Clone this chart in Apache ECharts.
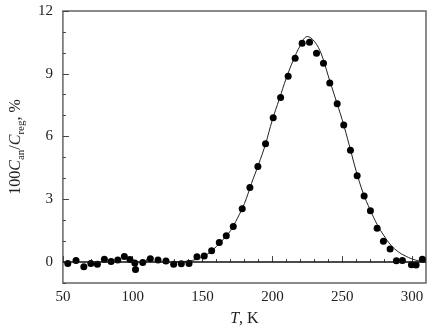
<!DOCTYPE html>
<html>
<head>
<meta charset="utf-8">
<script src="https://cdn.jsdelivr.net/npm/echarts@6/dist/echarts.min.js"></script>
<style>
  html, body { margin: 0; padding: 0; background: #fff; }
  #chart { width: 446px; height: 332px; }
</style>
</head>
<body>
<div id="chart"></div>
<script>
// measured points: temperature (K) and 100*C_an/C_reg (%)
const tempPoints = [53.5, 59.4, 65, 70, 74.7, 79.7, 84.5, 89.3, 94, 98, 101.5, 102, 107.2, 112.6,
  118.1, 123.8, 129.3, 134.8, 140.3, 146, 151.2, 156.5, 162, 167, 172, 178.4, 183.9, 189.6, 195.1,
  200.6, 205.9, 211.3, 216.3, 221.3, 226.6, 231.6, 236.6, 241.1, 246.4, 251.1, 255.9, 260.7, 265.7,
  270.2, 275, 279.5, 284.3, 288.8, 293.1, 299.6, 302.9, 307.4];
const ratioPoints = [-0.07, 0.08, -0.22, -0.07, -0.1, 0.14, 0.03, 0.1, 0.27, 0.12, -0.05, -0.35, -0.02, 0.16,
  0.1, 0.05, -0.1, -0.08, -0.07, 0.25, 0.29, 0.54, 0.94, 1.26, 1.7, 2.55, 3.57, 4.57, 5.66,
  6.9, 7.86, 8.88, 9.74, 10.46, 10.51, 9.98, 9.5, 8.56, 7.57, 6.55, 5.34, 4.13, 3.16,
  2.45, 1.62, 0.99, 0.63, 0.06, 0.08, -0.13, -0.14, 0.14];

// fitted curve
const fitTemp = [130, 140, 145, 150, 155, 160, 165, 170, 175, 180, 185, 190, 195, 200, 205, 210,
  215, 220, 225, 230, 235, 240, 245, 250, 255, 260, 265, 270, 275, 280, 285, 290, 295, 300, 305, 309];
const fitRatio = [0, 0.05, 0.12, 0.25, 0.45, 0.75, 1.1, 1.5, 2.1, 2.8, 3.75, 4.65, 5.62, 6.8, 7.8, 8.8,
  9.65, 10.35, 10.78, 10.55, 9.95, 8.9, 7.85, 6.8, 5.6, 4.35, 3.3, 2.5, 1.8, 1.25, 0.8, 0.5, 0.3, 0.15, 0.05, 0];

const xMajorTicks = [50, 100, 150, 200, 250, 300];
const xMinorTicks = [60, 70, 80, 90, 110, 120, 130, 140, 160, 170, 180, 190, 210, 220, 230, 240,
  260, 270, 280, 290];
const yMajorTicks = [0, 3, 6, 9, 12];
const yMinorTicks = [-1, 1, 2, 4, 5, 7, 8, 10, 11];

const serif = 'Liberation Serif';
const scatterData = tempPoints.map((t, i) => [t, ratioPoints[i]]);
const fitData = fitTemp.map((t, i) => [t, fitRatio[i]]);

const chart = echarts.init(document.getElementById('chart'));
chart.setOption({
  backgroundColor: '#fff',
  animation: false,
  grid: {
    left: 62, right: 20, top: 11, bottom: 49,
    show: true, borderColor: '#666', borderWidth: 1.5, backgroundColor: 'transparent'
  },
  xAxis: [
    {
      type: 'value', min: 50, max: 310,
      axisLine: {show: false},
      splitLine: {show: false},
      axisTick: {inside: true, length: 6, customValues: xMajorTicks, lineStyle: {color: '#444'}},
      axisLabel: {
        customValues: xMajorTicks, margin: 7,
        fontFamily: serif, fontSize: 15, color: '#222'
      },
      name: '{i|T}{n|, K}',
      nameLocation: 'middle',
      nameGap: 28,
      nameTextStyle: {
        rich: {
          i: {fontFamily: serif, fontSize: 16, fontStyle: 'italic', color: '#222'},
          n: {fontFamily: serif, fontSize: 16, color: '#222'}
        }
      }
    },
    {
      // minor ticks only
      type: 'value', min: 50, max: 310, position: 'bottom',
      axisLine: {show: false}, splitLine: {show: false}, axisLabel: {show: false},
      axisTick: {inside: true, length: 3, customValues: xMinorTicks, lineStyle: {color: '#444'}}
    }
  ],
  yAxis: [
    {
      type: 'value', min: -1, max: 12,
      axisLine: {show: false},
      splitLine: {show: false},
      axisTick: {inside: true, length: 6, customValues: yMajorTicks, lineStyle: {color: '#444'}},
      axisLabel: {
        customValues: yMajorTicks, margin: 10,
        fontFamily: serif, fontSize: 15, color: '#222'
      },
      name: '{n|100}{i|C}{s|an}{n|/}{i|C}{s|reg}{n|, %}',
      nameLocation: 'middle',
      nameGap: 35,
      nameTextStyle: {
        rich: {
          n: {fontFamily: serif, fontSize: 16, lineHeight: 22, color: '#222'},
          i: {fontFamily: serif, fontSize: 16, lineHeight: 22, fontStyle: 'italic', color: '#222'},
          s: {fontFamily: serif, fontSize: 11, lineHeight: 11, verticalAlign: 'bottom', color: '#222'}
        }
      }
    },
    {
      type: 'value', min: -1, max: 12, position: 'left',
      axisLine: {show: false}, splitLine: {show: false}, axisLabel: {show: false},
      axisTick: {inside: true, length: 3, customValues: yMinorTicks, lineStyle: {color: '#444'}}
    }
  ],
  series: [
    {
      name: 'fit',
      type: 'line',
      data: fitData,
      smooth: 0.4,
      showSymbol: false,
      lineStyle: {color: '#222', width: 1},
      z: 2
    },
    {
      name: 'measured',
      type: 'scatter',
      data: scatterData,
      symbol: 'circle',
      symbolSize: 7,
      itemStyle: {color: '#000', opacity: 1},
      z: 3,
      markLine: {
        silent: true,
        symbol: 'none',
        label: {show: false},
        lineStyle: {color: '#111', width: 1.5, type: 'solid'},
        data: [{yAxis: 0}]
      }
    }
  ]
});
</script>
</body>
</html>
